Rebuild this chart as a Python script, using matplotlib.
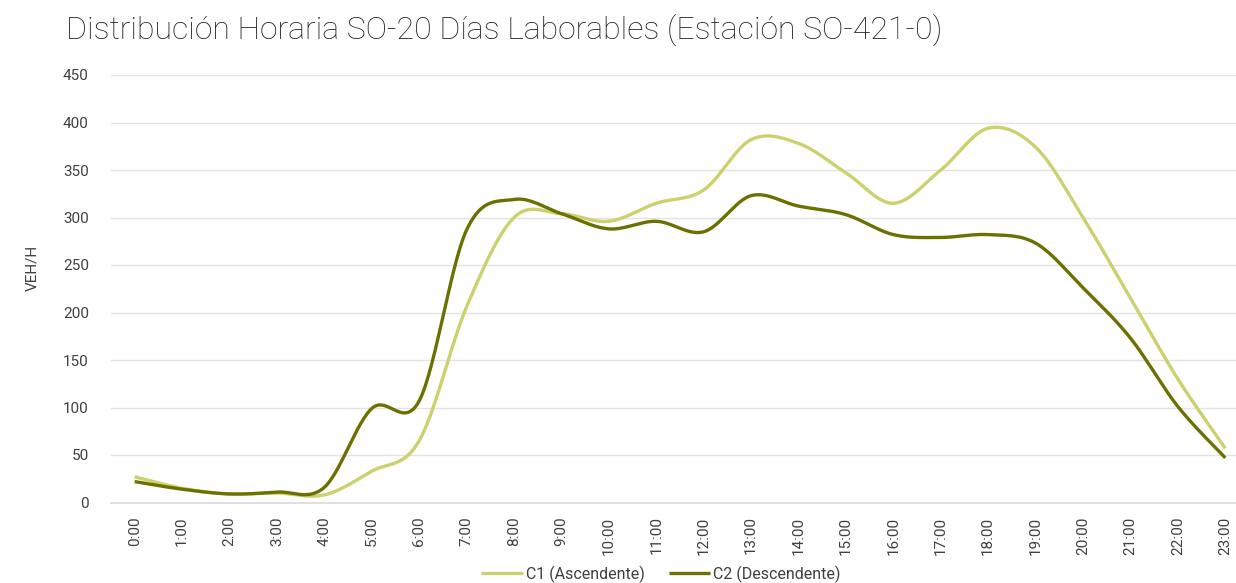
import numpy as np
import matplotlib
matplotlib.use("Agg")
import matplotlib.pyplot as plt
from matplotlib import font_manager

hours = [f"{h}:00" for h in range(24)]
c1_asc = [27, 15, 9, 10, 8, 33, 65, 206, 300, 304, 296, 315, 329, 382, 378, 347, 315, 350, 394, 374, 300, 215, 130, 57]
c2_desc = [22, 14, 9, 11, 16, 99, 107, 287, 319, 304, 288, 296, 285, 323, 312, 303, 282, 279, 282, 273, 226, 173, 101, 47]
series_names = ["C1 (Ascendente)", "C2 (Descendente)"]
series_colors = ["#CBD16C", "#6B7000"]
title = "Distribución Horaria SO-20 Días Laborables (Estación SO-421-0)"
ylabel = "VEH/H"

avail = {f.name for f in font_manager.fontManager.ttflist}
fam = [f for f in ["Roboto", "DejaVu Sans"] if f in avail]
plt.rcParams['font.family'] = fam


def smooth(xs, ys, n=30):
    # Catmull-Rom style Bezier smoothing (like spreadsheet smoothed lines)
    xs = np.asarray(xs, float); ys = np.asarray(ys, float)
    P = np.column_stack([xs, ys])
    out = []
    for i in range(len(P) - 1):
        p0 = P[i - 1] if i > 0 else P[i]
        p1 = P[i]; p2 = P[i + 1]
        p3 = P[i + 2] if i + 2 < len(P) else P[i + 1]
        b1 = p1 + (p2 - p0) / 6.0
        b2 = p2 - (p3 - p1) / 6.0
        t = np.linspace(0, 1, n, endpoint=(i == len(P) - 2))[:, None]
        seg = (1 - t) ** 3 * p1 + 3 * (1 - t) ** 2 * t * b1 + 3 * (1 - t) * t ** 2 * b2 + t ** 3 * p2
        out.append(seg)
    out = np.vstack(out)
    return out[:, 0], out[:, 1]


W, H = 1236, 583
fig = plt.figure(figsize=(W / 100, H / 100), dpi=100)
ax = fig.add_axes([111 / W, 80.5 / H, 1138 / W, 427.5 / H])

x = np.arange(len(hours))
handles = []
for vals, name, col in zip([c1_asc, c2_desc], series_names, series_colors):
    sx, sy = smooth(x, vals)
    h, = ax.plot(sx, sy, color=col, lw=2.4, label=name, solid_capstyle='butt')
    handles.append(h)

ax.set_xlim(-0.5, len(hours) - 0.5)
ax.set_ylim(0, 450)
ax.set_yticks(np.arange(0, 451, 50))
ax.set_xticks(x)
ax.set_xticklabels(hours, rotation=90, fontsize=11, color="#404040")
ax.tick_params(axis='y', labelsize=11, labelcolor="#404040", length=0, pad=16)
ax.tick_params(axis='x', length=0, pad=10)
ax.grid(axis='y', color="#E3E3E3", lw=1)
ax.set_axisbelow(True)
for s in ["top", "right", "left"]:
    ax.spines[s].set_visible(False)
ax.spines["bottom"].set_color("#D9D9D9")
ax.spines["bottom"].set_linewidth(1.2)

fig.text(32 / W, 1 - 268 / H, ylabel, rotation=90, ha='center', va='center', fontsize=11, color="#404040")
fig.text(66 / W, 1 - 30 / H, title, ha='left', va='center', fontsize=23, color="#1F1F1F", fontweight='light')

fig.legend(handles=handles, loc='center', bbox_to_anchor=(661 / W, 1 - 574 / H), ncol=2, frameon=False,
           fontsize=11.5, handlelength=2.6, handletextpad=0.2, columnspacing=1.5, labelcolor="#404040")

fig.savefig("out.png", dpi=100)
